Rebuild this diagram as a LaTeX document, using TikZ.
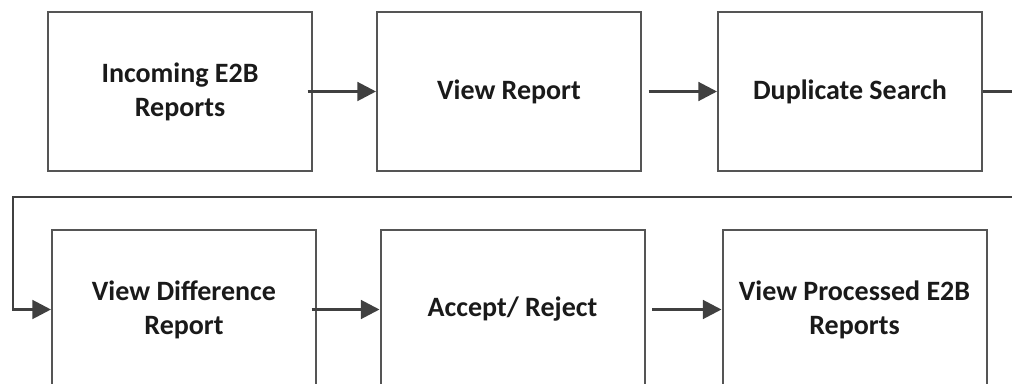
\documentclass[tikz,border=0pt]{standalone}
\usepackage{fontspec}
\setmainfont{Carlito}
\usetikzlibrary{arrows.meta}
\definecolor{boxgray}{HTML}{555555}
\definecolor{arrowgray}{HTML}{404040}
\definecolor{txt}{HTML}{1A1A1A}
\begin{document}
\begin{tikzpicture}[x=0.75pt,y=-0.75pt,
  box/.style={draw=boxgray, line width=1.5pt, minimum width=198pt, minimum height=119.25pt,
    inner sep=0pt, align=center, font=\fontsize{21}{25.5}\selectfont\bfseries, text=txt},
  flow/.style={draw=arrowgray, line width=2.2pt, -{Triangle[length=14pt,width=14pt]}},
  link/.style={draw=arrowgray, line width=2.2pt}]
\useasboundingbox (0,0) rectangle (1012,384);
\clip (0,0) rectangle (1012,384);
\fill[white] (0,0) rectangle (1012,384);
\node[box] (b1) at (180,91.5) {Incoming E2B\\Reports};
\node[box] (b2) at (509,91.5) {View Report};
\node[box] (b3) at (850,91.5) {Duplicate Search};
\node[box] (b4) at (184,309.5) {View Difference\\Report};
\node[box] (b5) at (512.5,309.5) {Accept/ Reject};
\node[box] (b6) at (854.5,309.5) {View Processed E2B\\Reports};
\coordinate (r1) at (1030,91.5);
\coordinate (r2) at (1030,197);
\coordinate (l1) at (13,197);
\coordinate (l2) at (13,309.5);
\draw[flow] ([xshift=-4pt]b1.east) -- (b2.west);
\draw[flow] (b2.east) ++(5pt,0) -- (b3.west);
\draw[flow] ([xshift=-4pt]b4.east) -- (b5.west);
\draw[flow] (b5.east) ++(5pt,0) -- (b6.west);
\draw[flow] (b3.east) -- (r1) -- (r2) -- (l1) -- (l2) -- (b4.west);
\end{tikzpicture}
\end{document}
